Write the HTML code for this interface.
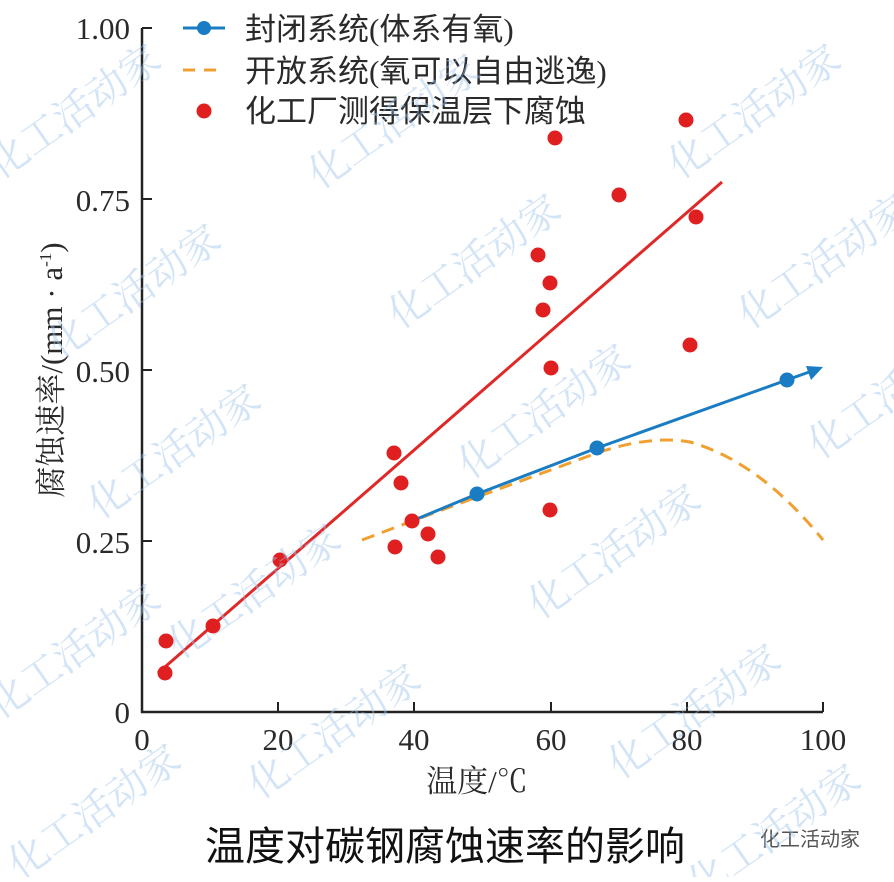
<!DOCTYPE html>
<html><head><meta charset="utf-8"><style>
body{margin:0;background:#fff;width:894px;height:877px;overflow:hidden}
svg text{font-family:"Liberation Serif","Noto Serif CJK SC",serif}
</style></head><body>
<svg width="894" height="877" viewBox="0 0 894 877" xmlns="http://www.w3.org/2000/svg">
<g fill="#2a2a2a" font-size="31">
<path d="M142 28 V712 H823" fill="none" stroke="#222" stroke-width="2.5"/>
<path d="M142 28h10M142 199h10M142 370h10M142 541h10M278 712v-10M414 712v-10M551 712v-10M687 712v-10M823 712v-10" stroke="#222" stroke-width="2"/>
<text x="130" y="39" text-anchor="end">1.00</text>
<text x="130" y="211" text-anchor="end">0.75</text>
<text x="130" y="382" text-anchor="end">0.50</text>
<text x="130" y="553" text-anchor="end">0.25</text>
<text x="130" y="723" text-anchor="end">0</text>
<text x="142" y="750" text-anchor="middle">0</text>
<text x="278" y="750" text-anchor="middle">20</text>
<text x="414" y="750" text-anchor="middle">40</text>
<text x="551" y="750" text-anchor="middle">60</text>
<text x="687" y="750" text-anchor="middle">80</text>
<text x="823" y="750" text-anchor="middle">100</text>
<text x="477" y="792" text-anchor="middle">温度/℃</text>
<text transform="translate(62 370) rotate(-90)" text-anchor="middle">腐蚀速率/(mm · a<tspan font-size="17" dy="-11">-1</tspan><tspan dy="11">)</tspan></text>
</g>
<g fill="#2a2a2a" font-size="31" style='font-family:"Liberation Sans","Noto Sans CJK SC",sans-serif'>
<text x="245" y="40" style='font-family:"Liberation Serif","Noto Sans CJK SC",serif'>封闭系统(体系有氧)</text>
<text x="245" y="82" style='font-family:"Liberation Serif","Noto Sans CJK SC",serif'>开放系统(氧可以自由逃逸)</text>
<text x="245" y="122" style='font-family:"Liberation Serif","Noto Sans CJK SC",serif'>化工厂测得保温层下腐蚀</text>
</g>
<path d="M183 28h42" stroke="#1a7cc2" stroke-width="3"/><circle cx="204" cy="28" r="7" fill="#1a7cc2"/>
<path d="M183 70h42" stroke="#f0a030" stroke-width="3" stroke-dasharray="12 9"/>
<circle cx="204" cy="111" r="7.5" fill="#e02020"/>
<path d="M158 673L722 182" stroke="#e02828" stroke-width="3"/>
<path d="M362 540Q420 518 477 497L597 453Q650 435 690 442Q760 462 823 540" fill="none" stroke="#f0a030" stroke-width="3" stroke-dasharray="13 8"/>
<path d="M412 521L477 494L597 448L812 371" fill="none" stroke="#1a7cc2" stroke-width="3"/>
<path d="M823 367L806 366L811 380Z" fill="#1a7cc2"/>
<g fill="#1a7cc2"><circle cx="477" cy="494" r="7.5"/><circle cx="597" cy="448" r="7.5"/><circle cx="787" cy="380" r="7.5"/></g>
<g fill="#e02020">
<circle cx="166" cy="641" r="7.5"/><circle cx="165" cy="673" r="7.5"/><circle cx="213" cy="626" r="7.5"/><circle cx="280" cy="560" r="7.5"/><circle cx="394" cy="453" r="7.5"/><circle cx="401" cy="483" r="7.5"/><circle cx="395" cy="547" r="7.5"/><circle cx="412" cy="521" r="7.5"/><circle cx="428" cy="534" r="7.5"/><circle cx="438" cy="557" r="7.5"/><circle cx="538" cy="255" r="7.5"/><circle cx="543" cy="310" r="7.5"/><circle cx="550" cy="283" r="7.5"/><circle cx="551" cy="368" r="7.5"/><circle cx="550" cy="510" r="7.5"/><circle cx="555" cy="138" r="7.5"/><circle cx="619" cy="195" r="7.5"/><circle cx="686" cy="120" r="7.5"/><circle cx="696" cy="217" r="7.5"/><circle cx="690" cy="345" r="7.5"/>
</g>
<text x="445" y="860" text-anchor="middle" font-size="40" fill="#111" style='font-family:"Liberation Sans","Noto Sans CJK SC",sans-serif'>温度对碳钢腐蚀速率的影响</text>
<text x="760" y="846" font-size="20" fill="#555" style='font-family:"Liberation Sans","Noto Sans CJK SC",sans-serif'>化工活动家</text>
<g fill="#9cc4ec" fill-opacity="0.45" font-size="40" style='font-family:"Liberation Sans","Noto Sans CJK SC",sans-serif'>
<text transform="translate(0 180) rotate(-35)">化工活动家</text>
<text transform="translate(320 190) rotate(-35)">化工活动家</text>
<text transform="translate(680 180) rotate(-35)">化工活动家</text>
<text transform="translate(60 360) rotate(-35)">化工活动家</text>
<text transform="translate(400 330) rotate(-35)">化工活动家</text>
<text transform="translate(750 330) rotate(-35)">化工活动家</text>
<text transform="translate(100 520) rotate(-35)">化工活动家</text>
<text transform="translate(470 480) rotate(-35)">化工活动家</text>
<text transform="translate(820 460) rotate(-35)">化工活动家</text>
<text transform="translate(180 660) rotate(-35)">化工活动家</text>
<text transform="translate(540 620) rotate(-35)">化工活动家</text>
<text transform="translate(0 720) rotate(-35)">化工活动家</text>
<text transform="translate(260 800) rotate(-35)">化工活动家</text>
<text transform="translate(620 780) rotate(-35)">化工活动家</text>
<text transform="translate(20 880) rotate(-35)">化工活动家</text>
<text transform="translate(700 900) rotate(-35)">化工活动家</text>
</g>
</svg>
</body></html>
